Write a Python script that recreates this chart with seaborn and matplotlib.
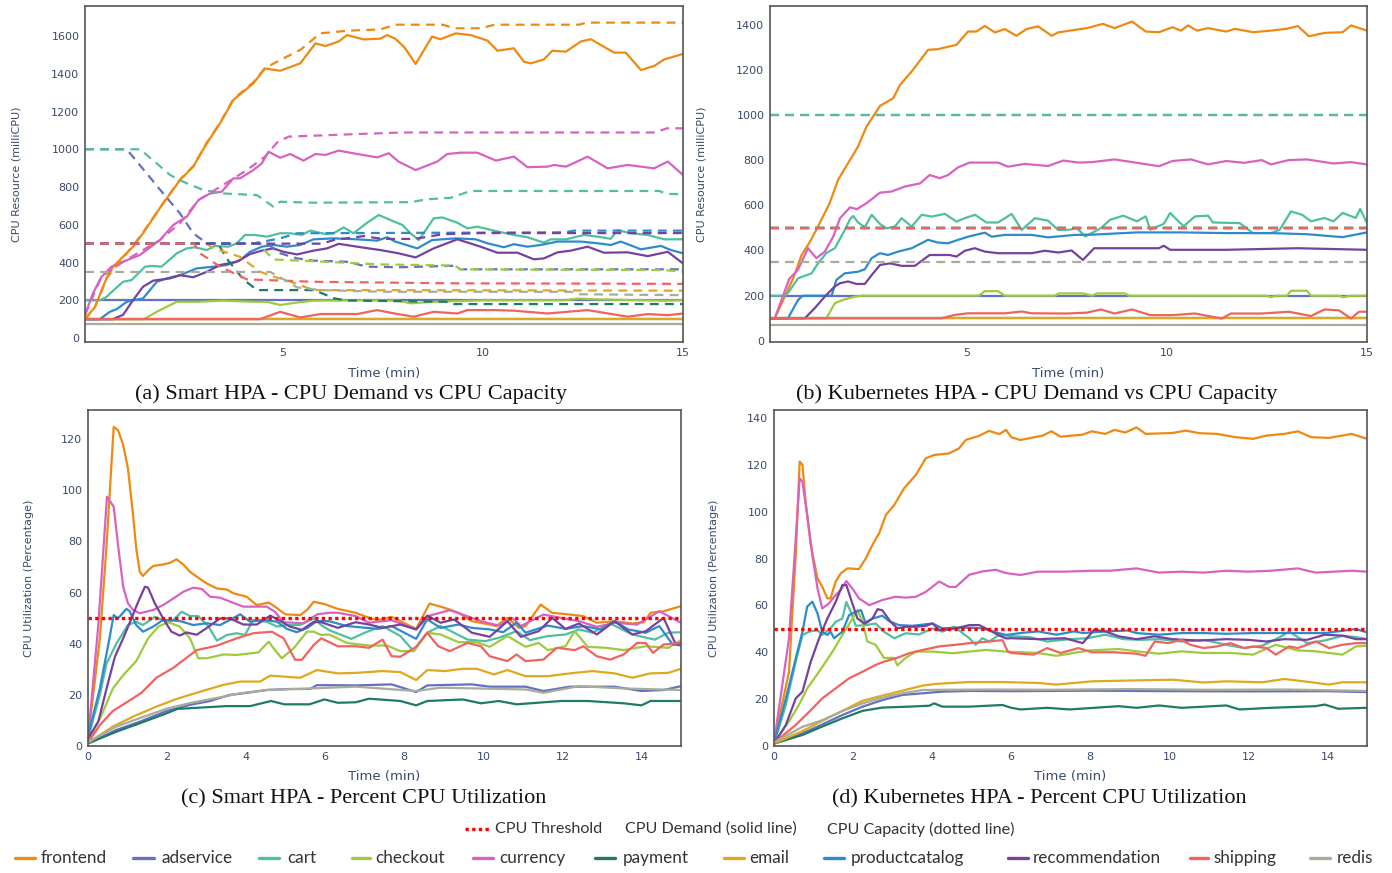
import matplotlib
matplotlib.use("Agg")
import matplotlib.pyplot as plt
import seaborn as sns
from matplotlib.lines import Line2D

# ---------------------------------------------------------------- data
SERVICES = ["frontend", "adservice", "cart", "checkout", "currency", "payment",
            "email", "productcatalog", "recommendation", "shipping", "redis"]
COLORS = ["#EE8A12", "#6470C4", "#4EC0A0", "#9CCB3C", "#D762C0", "#1E7B66",
          "#E0A81E", "#2E8BCB", "#7542A0", "#F2625E", "#A9AC98"]
THRESHOLD = 50

# (a) Smart HPA - CPU demand (milliCPU), points (minute, value)
A_DEMAND = {
    "frontend": [(0.08, 100), (0.33, 165), (0.62, 318), (0.78, 378), (1.28, 484), (1.53, 556), (2.03, 714),
                 (2.45, 837), (2.78, 908), (3.12, 1032), (3.45, 1138), (3.78, 1261), (4.28, 1349), (4.57, 1428),
                 (4.95, 1416), (5.45, 1455), (5.83, 1561), (6.08, 1547), (6.41, 1571), (6.62, 1605), (7.03, 1582),
                 (7.45, 1586), (7.62, 1605), (7.82, 1586), (8.05, 1540), (8.33, 1452), (8.74, 1597), (8.95, 1583),
                 (9.33, 1614), (9.7, 1605), (10.12, 1576), (10.37, 1522), (10.78, 1535), (11.03, 1464), (11.2, 1455),
                 (11.53, 1476), (11.74, 1522), (12.08, 1517), (12.45, 1571), (12.7, 1583), (13.28, 1512),
                 (13.57, 1512), (13.95, 1420), (14.28, 1441), (14.53, 1476), (15.0, 1505)],
    "adservice": [(0.08, 200), (15.0, 200)],
    "cart": [(0.08, 200), (0.45, 200), (0.6, 215), (0.78, 251), (1.03, 298), (1.24, 307), (1.58, 378), (1.74, 382),
             (1.99, 378), (2.37, 449), (2.62, 475), (2.82, 481), (3.12, 466), (3.32, 488), (3.66, 484), (3.87, 502),
             (4.07, 546), (4.32, 546), (4.62, 537), (4.95, 555), (5.2, 555), (5.49, 546), (5.7, 569), (6.08, 551),
             (6.28, 555), (6.53, 586), (6.78, 555), (7.12, 611), (7.41, 652), (7.7, 625), (8.0, 599), (8.2, 555),
             (8.41, 519), (8.78, 634), (8.99, 639), (9.37, 611), (9.62, 581), (9.87, 590), (10.28, 569),
             (10.78, 546), (11.12, 534), (11.53, 505), (11.7, 523), (12.08, 523), (12.53, 546), (12.87, 537),
             (13.2, 526), (13.37, 572), (13.7, 555), (14.12, 546), (14.53, 523), (15.0, 523)],
    "checkout": [(0.08, 100), (1.55, 100), (1.87, 139), (2.37, 192), (2.87, 192), (3.53, 198), (4.3, 192),
                 (4.62, 192), (4.95, 175), (5.37, 188), (5.78, 198), (7.0, 200), (7.9, 198), (8.2, 184), (8.8, 192),
                 (10.0, 200), (12.0, 200), (12.4, 209), (12.8, 205), (14.5, 198), (15.0, 200)],
    "currency": [(0.08, 123), (0.28, 238), (0.49, 324), (0.74, 378), (1.03, 404), (1.45, 440), (1.95, 519),
                 (2.28, 599), (2.62, 643), (2.91, 731), (3.2, 766), (3.49, 775), (3.78, 846), (3.95, 846),
                 (4.28, 890), (4.49, 925), (4.66, 987), (4.95, 955), (5.2, 975), (5.53, 940), (5.83, 975),
                 (6.08, 970), (6.41, 993), (6.87, 975), (7.37, 957), (7.66, 979), (7.9, 935), (8.33, 890),
                 (8.87, 935), (9.12, 975), (9.45, 982), (9.87, 982), (10.33, 940), (10.78, 961), (11.12, 905),
                 (11.62, 908), (11.78, 917), (12.08, 908), (12.62, 961), (13.12, 899), (13.62, 917), (14.28, 899),
                 (14.62, 935), (15.0, 864)],
    "payment": [(0.08, 100), (15.0, 100)],
    "email": [(0.08, 100), (15.0, 100)],
    "productcatalog": [(0.08, 100), (0.45, 100), (0.7, 139), (0.87, 153), (1.12, 192), (1.4, 205), (1.53, 210),
                       (1.87, 298), (2.12, 316), (2.45, 333), (2.87, 369), (3.28, 378), (3.62, 387), (3.95, 413),
                       (4.2, 457), (4.49, 484), (4.78, 493), (5.12, 484), (5.45, 493), (5.78, 523), (6.28, 528),
                       (6.87, 523), (7.37, 516), (7.62, 534), (7.82, 511), (8.37, 475), (8.74, 519), (9.33, 528),
                       (9.83, 523), (10.12, 502), (10.53, 481), (10.78, 497), (11.12, 484), (11.45, 493),
                       (11.87, 511), (12.45, 511), (12.87, 502), (13.2, 493), (13.45, 511), (13.95, 470),
                       (14.45, 488), (14.7, 466), (15.0, 449)],
    "recommendation": [(0.08, 100), (0.78, 100), (1.03, 123), (1.28, 201), (1.53, 272), (1.78, 304), (2.2, 316),
                       (2.45, 333), (2.78, 322), (3.12, 351), (3.45, 387), (3.87, 404), (4.2, 445), (4.49, 463),
                       (4.78, 475), (5.03, 457), (5.37, 443), (5.78, 463), (6.12, 475), (6.41, 499), (6.87, 484),
                       (7.45, 466), (7.9, 449), (8.33, 427), (8.78, 475), (9.37, 523), (9.95, 484), (10.37, 452),
                       (10.87, 452), (11.28, 417), (11.53, 422), (11.87, 454), (12.2, 463), (12.62, 484),
                       (13.03, 452), (13.62, 454), (14.12, 434), (14.62, 457), (15.0, 395)],
    "shipping": [(0.08, 100), (4.45, 100), (4.95, 139), (5.45, 109), (5.95, 127), (6.87, 127), (7.37, 148),
                 (7.8, 130), (8.28, 113), (8.78, 139), (9.37, 130), (9.62, 148), (10.28, 148), (10.78, 145),
                 (11.62, 130), (12.62, 148), (13.62, 113), (14.12, 127), (14.62, 121), (15.0, 130)],
    "redis": [(0.08, 72), (15.0, 72)],
}

# (a) Smart HPA - CPU capacity (milliCPU)
A_CAPACITY = {
    "frontend": [(0.08, 100), (0.33, 165), (0.62, 318), (1.28, 490), (1.53, 560), (2.03, 714), (2.45, 840),
                 (2.78, 910), (3.12, 1035), (3.45, 1140), (3.78, 1265), (4.28, 1355), (4.57, 1430), (4.95, 1473),
                 (5.45, 1526), (5.95, 1614), (6.62, 1628), (7.45, 1635), (7.82, 1660), (9.0, 1660), (9.3, 1641),
                 (9.95, 1641), (10.3, 1660), (12.4, 1660), (12.6, 1671), (15.0, 1671)],
    "adservice": [(0.08, 1000), (1.12, 1000), (1.62, 872), (2.03, 766), (2.45, 660), (2.78, 555), (2.95, 528),
                  (3.12, 502), (4.62, 500), (4.95, 449), (5.37, 422), (5.78, 410), (6.62, 404), (7.12, 378),
                  (7.95, 375), (9.3, 383), (9.45, 364), (15.0, 364)],
    "cart": [(0.08, 1000), (1.45, 1000), (1.87, 925), (2.2, 864), (2.53, 828), (3.03, 784), (3.53, 766),
             (4.37, 757), (4.78, 696), (4.95, 722), (5.78, 717), (8.2, 720), (8.62, 735), (9.2, 743), (9.7, 779),
             (14.4, 779), (14.62, 763), (15.0, 763)],
    "checkout": [(0.08, 500), (4.4, 500), (4.78, 416), (5.78, 407), (7.45, 390), (9.3, 384), (9.45, 364),
                 (14.5, 360), (15.0, 352)],
    "currency": [(0.08, 123), (0.49, 324), (1.03, 404), (1.95, 519), (2.45, 608), (2.91, 731), (3.45, 801),
                 (4.12, 890), (4.57, 961), (4.87, 1035), (5.16, 1067), (6.28, 1076), (7.45, 1085), (8.0, 1089),
                 (14.3, 1089), (14.6, 1111), (15.0, 1111)],
    "payment": [(0.08, 500), (3.4, 500), (3.62, 420), (4.03, 311), (4.37, 254), (5.8, 254), (6.3, 210),
                (6.62, 199), (9.1, 192), (9.28, 180), (15.0, 180)],
    "email": [(0.08, 500), (3.1, 500), (3.3, 475), (3.95, 430), (4.45, 351), (4.78, 325), (5.1, 307),
              (5.78, 254), (15.0, 251)],
    "productcatalog": [(0.08, 500), (4.3, 502), (4.95, 528), (5.37, 555), (12.0, 560), (12.3, 569), (15.0, 569)],
    "recommendation": [(0.08, 500), (6.0, 500), (6.28, 519), (7.03, 540), (7.5, 525), (8.3, 525), (9.0, 550),
                       (10.0, 556), (15.0, 556)],
    "shipping": [(0.08, 500), (2.8, 500), (2.95, 449), (3.45, 378), (4.12, 311), (4.62, 307), (5.78, 298),
                 (7.95, 293), (9.2, 290), (15.0, 287)],
    "redis": [(0.08, 350), (4.7, 350), (5.03, 312), (5.37, 268), (5.95, 254), (7.5, 245), (12.2, 245),
              (12.4, 232), (15.0, 227)],
}

# (b) Kubernetes HPA - CPU demand (milliCPU)
B_DEMAND = {
    "frontend": [(0.08, 100), (0.2, 100), (0.45, 196), (0.66, 277), (0.87, 380), (1.08, 439), (1.28, 506),
                 (1.57, 609), (1.78, 712), (2.08, 801), (2.28, 860), (2.49, 948), (2.83, 1040), (3.16, 1074),
                 (3.33, 1133), (3.62, 1192), (4.03, 1288), (4.28, 1291), (4.49, 1300), (4.74, 1310), (5.03, 1369),
                 (5.24, 1369), (5.45, 1394), (5.7, 1365), (5.95, 1380), (6.24, 1350), (6.49, 1380), (6.78, 1392),
                 (7.12, 1350), (7.28, 1365), (7.57, 1373), (8.0, 1384), (8.4, 1403), (8.69, 1384), (9.13, 1413),
                 (9.47, 1369), (9.8, 1366), (10.14, 1388), (10.35, 1373), (10.53, 1396), (10.75, 1373),
                 (11.03, 1384), (11.48, 1369), (11.7, 1381), (12.15, 1366), (12.6, 1373), (12.99, 1381),
                 (13.27, 1393), (13.55, 1348), (13.94, 1363), (14.39, 1366), (14.6, 1396), (15.0, 1373)],
    "adservice": [(0.08, 200), (15.0, 200)],
    "cart": [(0.08, 200), (0.45, 200), (0.53, 212), (0.78, 277), (1.12, 299), (1.28, 343), (1.49, 389),
             (1.7, 410), (1.95, 491), (2.08, 539), (2.16, 553), (2.28, 524), (2.45, 503), (2.62, 558), (2.83, 517),
             (2.99, 498), (3.2, 506), (3.37, 543), (3.62, 506), (3.87, 558), (4.12, 550), (4.45, 562), (4.74, 528),
             (4.95, 543), (5.2, 558), (5.49, 524), (5.78, 524), (6.12, 562), (6.37, 491), (6.7, 543), (7.03, 532),
             (7.28, 491), (7.57, 492), (7.75, 499), (7.96, 462), (8.35, 499), (8.58, 536), (8.91, 554),
             (9.25, 529), (9.47, 551), (9.58, 492), (9.92, 518), (10.08, 566), (10.25, 536), (10.42, 507),
             (10.7, 551), (11.03, 554), (11.15, 524), (11.82, 521), (12.15, 477), (12.6, 477), (12.82, 492),
             (13.1, 573), (13.38, 558), (13.6, 529), (13.94, 544), (14.16, 529), (14.39, 566), (14.72, 544),
             (14.83, 584), (15.0, 521)],
    "checkout": [(0.08, 100), (1.49, 100), (1.7, 167), (1.95, 184), (2.2, 196), (2.4, 200), (5.3, 200),
                 (5.45, 220), (5.78, 220), (5.95, 200), (7.2, 200), (7.3, 210), (7.9, 210), (8.13, 200),
                 (8.25, 210), (8.95, 210), (9.05, 200), (12.5, 200), (12.6, 193), (12.7, 200), (13.0, 200),
                 (13.1, 222), (13.5, 222), (13.6, 200), (14.3, 200), (14.4, 193), (14.6, 200), (15.0, 200)],
    "currency": [(0.08, 100), (0.2, 100), (0.56, 274), (0.78, 315), (1.03, 410), (1.24, 366), (1.45, 395),
                 (1.66, 461), (1.83, 543), (2.08, 591), (2.25, 583), (2.49, 609), (2.83, 656), (3.12, 661),
                 (3.45, 683), (3.83, 697), (4.07, 734), (4.32, 720), (4.53, 734), (4.78, 768), (5.07, 789),
                 (5.78, 789), (6.03, 771), (6.45, 783), (7.03, 774), (7.41, 798), (7.8, 789), (8.13, 791),
                 (8.69, 803), (9.25, 788), (9.8, 773), (10.14, 796), (10.6, 803), (11.03, 781), (11.48, 796),
                 (11.93, 788), (12.37, 800), (12.6, 781), (13.04, 800), (13.5, 803), (14.16, 785), (14.6, 791),
                 (15.0, 781)],
    "payment": [(0.08, 100), (15.0, 100)],
    "email": [(0.08, 100), (15.0, 100)],
    "productcatalog": [(0.08, 100), (0.53, 100), (0.78, 181), (0.9, 200), (1.62, 200), (1.74, 270), (1.95, 299),
                       (2.28, 306), (2.45, 317), (2.62, 366), (2.83, 388), (3.03, 380), (3.28, 395), (3.62, 410),
                       (4.03, 447), (4.28, 435), (4.53, 432), (4.78, 447), (5.03, 461), (5.45, 479), (5.62, 461),
                       (5.95, 469), (6.62, 469), (7.03, 458), (7.7, 469), (8.13, 470), (9.25, 480), (10.35, 480),
                       (11.48, 477), (12.6, 477), (13.5, 472), (14.39, 459), (15.0, 480)],
    "recommendation": [(0.08, 100), (0.95, 100), (1.2, 145), (1.45, 196), (1.7, 241), (1.83, 255), (2.03, 263),
                       (2.24, 252), (2.45, 252), (2.62, 291), (2.83, 336), (3.08, 343), (3.37, 332), (3.7, 332),
                       (4.07, 380), (4.57, 380), (4.74, 373), (4.95, 399), (5.2, 410), (5.45, 395), (5.78, 388),
                       (6.62, 388), (6.95, 399), (7.28, 391), (7.62, 400), (7.9, 358), (8.18, 410), (9.8, 410),
                       (9.92, 421), (10.08, 403), (11.48, 403), (13.27, 410), (15.0, 403)],
    "shipping": [(0.08, 100), (4.37, 100), (4.7, 115), (5.03, 122), (5.95, 122), (6.37, 130), (6.62, 122),
                 (7.5, 121), (8.0, 125), (8.35, 139), (8.69, 121), (9.13, 139), (9.58, 114), (10.14, 114),
                 (10.7, 121), (11.37, 99), (11.6, 121), (12.37, 121), (13.04, 129), (13.6, 110), (13.94, 139),
                 (14.3, 135), (14.6, 99), (14.8, 129), (15.0, 129)],
    "redis": [(0.08, 70), (15.0, 70)],
}

# (b) Kubernetes HPA - CPU capacity (milliCPU)
B_CAPACITY = {
    "adservice": [(0.08, 1000), (15.0, 1000)],
    "cart": [(0.08, 1000), (15.0, 1000)],
    "checkout": [(0.08, 500), (15.0, 500)],
    "payment": [(0.08, 500), (15.0, 500)],
    "email": [(0.08, 500), (15.0, 500)],
    "productcatalog": [(0.08, 500), (15.0, 500)],
    "recommendation": [(0.08, 500), (15.0, 500)],
    "shipping": [(0.08, 500), (15.0, 500)],
    "redis": [(0.08, 350), (15.0, 350)],
}

# (c) Smart HPA - CPU utilization (%)
C_UTIL = {
    "frontend": [(0, 3), (0.3, 42), (0.47, 78.6), (0.65, 124.8), (0.76, 123.5), (0.89, 117.7), (1.01, 108.6),
                 (1.14, 90.3), (1.22, 77.3), (1.31, 68.1), (1.39, 66.5), (1.52, 68.7), (1.65, 70.4), (1.9, 71),
                 (2.07, 71.6), (2.24, 73), (2.41, 71), (2.58, 68.1), (2.79, 65.8), (3.0, 63.6), (3.26, 61.6),
                 (3.51, 61.2), (3.68, 59.7), (4.01, 58.4), (4.27, 55.1), (4.57, 56.1), (4.73, 54.5), (4.99, 51.5),
                 (5.37, 51.2), (5.54, 53.2), (5.71, 56.4), (5.98, 55.5), (6.32, 53.6), (6.77, 52.1), (7.11, 50.1),
                 (7.34, 49.2), (7.68, 50.5), (8.02, 47.9), (8.3, 45.8), (8.64, 55.7), (9.03, 54), (9.37, 52.1),
                 (9.71, 48.8), (10.16, 47.5), (10.33, 46.9), (10.61, 50.1), (10.9, 46.2), (11.07, 46.9),
                 (11.45, 55.3), (11.74, 52.1), (12.19, 51.4), (12.53, 50.8), (12.87, 48.2), (13.32, 48.8),
                 (13.77, 47.9), (14.06, 48.4), (14.23, 52.1), (14.56, 52.7), (15.0, 54.7)],
    "adservice": [(0, 1), (0.72, 6.3), (1.31, 9.5), (1.99, 13.7), (2.58, 16.1), (3.09, 17.6), (3.59, 20),
                  (3.93, 20.6), (4.52, 21.9), (5.11, 22.3), (5.62, 22.3), (5.79, 23.8), (6.77, 23.7), (7.68, 24.1),
                  (8.3, 21.1), (8.58, 23.7), (9.71, 24.1), (10.16, 23.2), (11.07, 23.2), (11.52, 21.5),
                  (12.19, 23.2), (13.32, 23.2), (14.0, 21.5), (14.56, 21.9), (15.0, 23.4)],
    "cart": [(0, 3), (0.3, 20), (0.47, 32.3), (0.72, 40.1), (1.01, 47.3), (1.22, 48.6), (1.39, 47.3), (1.69, 50.5),
             (1.99, 48.6), (2.16, 49.3), (2.37, 52.5), (2.58, 50.8), (2.79, 50.8), (3.05, 46.7), (3.26, 41.2),
             (3.51, 43.4), (3.76, 44.1), (3.97, 43.4), (4.18, 49.3), (4.52, 48.6), (4.78, 46.7), (5.03, 47.3),
             (5.37, 47.3), (5.71, 49.9), (5.9, 47.3), (6.1, 45.3), (6.66, 41.9), (7.0, 44.3), (7.45, 46.9),
             (7.9, 43), (8.24, 37.1), (8.58, 44.3), (8.92, 46.9), (9.26, 44.3), (9.6, 41.6), (10.05, 41),
             (10.39, 42.3), (10.84, 44.9), (11.18, 41.4), (11.63, 43), (12.08, 43.6), (12.42, 45.6),
             (12.76, 44.3), (13.21, 47.9), (13.77, 43.6), (14.34, 41.6), (14.68, 44.3), (15.0, 44.5)],
    "checkout": [(0, 2), (0.34, 12), (0.63, 22.5), (0.89, 27.7), (1.22, 33.2), (1.52, 42.1), (1.78, 46.7),
                 (2.03, 48.4), (2.32, 46.7), (2.58, 42.1), (2.79, 34.3), (3.0, 34.3), (3.43, 35.8), (3.76, 35.6),
                 (4.31, 36.6), (4.57, 40.8), (4.73, 37.5), (4.9, 34.3), (5.2, 38.2), (5.54, 44.7), (5.71, 44.7),
                 (5.9, 43.4), (6.1, 43.6), (6.55, 40.3), (7.11, 39.3), (7.56, 39.3), (7.9, 37.1), (8.24, 37.1),
                 (8.58, 44.3), (8.92, 43.6), (9.37, 40.6), (9.83, 40.6), (10.16, 38.8), (10.61, 43),
                 (11.07, 38.8), (11.4, 40.3), (11.63, 37.5), (12.08, 39), (12.31, 44.9), (12.64, 38.8),
                 (13.1, 38.4), (13.55, 37.5), (14.11, 39), (14.68, 38.4), (15.0, 41.4)],
    "currency": [(0, 3), (0.26, 47), (0.48, 97.5), (0.65, 93.6), (0.76, 78.6), (0.89, 62.3), (1.01, 55.8),
                 (1.14, 53.2), (1.31, 51.9), (1.65, 53.2), (1.9, 55.1), (2.16, 57.7), (2.41, 60.3), (2.66, 61.9),
                 (2.88, 61.4), (3.09, 58.4), (3.34, 58), (3.64, 56.2), (3.93, 54.5), (4.52, 54.5), (4.73, 52.5),
                 (4.95, 48.4), (5.45, 48), (5.8, 51.5), (6.1, 52.1), (6.32, 52.1), (6.77, 50.8), (7.11, 48.2),
                 (7.68, 49.2), (8.3, 45.6), (8.64, 51), (9.15, 53.1), (9.48, 51.4), (9.94, 48.8), (10.39, 47.1),
                 (10.73, 50.1), (10.95, 46.9), (11.52, 51.4), (11.97, 50.1), (12.42, 48.8), (12.87, 46.6),
                 (13.32, 48.2), (13.89, 47.5), (14.45, 52.7), (15.0, 48.2)],
    "payment": [(0, 1), (0.72, 5.6), (1.31, 8.9), (1.99, 12.8), (2.26, 14.5), (3.5, 15.6), (4.1, 15.6),
                (4.63, 17.6), (4.97, 16.3), (5.6, 16.3), (5.98, 18.2), (6.32, 16.9), (6.77, 17.1), (7.11, 18.5),
                (7.9, 17.6), (8.3, 15.9), (8.58, 17.6), (9.48, 18.2), (9.94, 16.7), (10.39, 17.6), (10.84, 16.3),
                (11.97, 17.6), (12.64, 17.6), (13.55, 16.7), (14.0, 15.9), (14.23, 17.6), (15.0, 17.6)],
    "email": [(0, 1.3), (0.63, 7.6), (1.14, 11.5), (1.73, 15.4), (2.24, 18.4), (2.83, 21.2), (3.42, 23.9),
              (3.85, 25.2), (4.35, 25.2), (4.61, 27.5), (5.37, 26.7), (5.79, 29.7), (6.32, 28.4), (6.77, 28.6),
              (7.45, 29.3), (7.9, 28.9), (8.3, 25.8), (8.58, 29.7), (9.03, 29.3), (9.48, 30.2), (9.83, 30.2),
              (10.27, 28), (10.61, 29.7), (11.07, 27.3), (11.63, 27.3), (12.19, 28.4), (12.76, 29.3),
              (13.32, 28.4), (13.77, 26.7), (14.23, 28.4), (14.68, 28.6), (15.0, 30.2)],
    "productcatalog": [(0, 4), (0.3, 22.5), (0.51, 39.4), (0.65, 51.2), (0.76, 49.9), (0.97, 53.6), (1.05, 52.8),
                       (1.22, 47.3), (1.39, 44.7), (1.65, 46.7), (1.9, 49.3), (2.32, 48.9), (2.66, 47.3),
                       (3.0, 48), (3.34, 47.3), (3.59, 49.3), (3.85, 51.5), (4.1, 48.6), (4.44, 49.3),
                       (4.78, 48.6), (5.03, 45.8), (5.28, 44.5), (5.54, 46.1), (5.8, 48.9), (6.1, 48.8),
                       (6.55, 46.9), (7.34, 45.8), (7.68, 46.9), (8.3, 41.9), (8.58, 49.5), (8.92, 46.2),
                       (9.37, 47.5), (9.71, 46.2), (10.16, 45.6), (10.5, 44.5), (10.84, 48.2), (11.07, 44.3),
                       (11.63, 47.1), (12.08, 45.8), (12.53, 46.9), (12.98, 45.6), (13.32, 48.8), (13.66, 45.6),
                       (14.11, 44.3), (14.45, 46.9), (14.79, 39.7), (15.0, 39.3)],
    "recommendation": [(0, 3), (0.26, 9.5), (0.47, 22.5), (0.68, 34.9), (0.89, 42.1), (1.1, 49.9), (1.27, 56.4),
                       (1.44, 62.3), (1.52, 61.9), (1.69, 55.8), (1.9, 49.9), (2.11, 44.7), (2.32, 43.2),
                       (2.49, 44.4), (2.75, 43.5), (3.0, 46.1), (3.34, 49.9), (3.59, 49.9), (3.93, 47.5),
                       (4.27, 47.5), (4.61, 51), (4.86, 48.9), (5.11, 46.7), (5.41, 45.4), (5.71, 48.6),
                       (5.9, 48.4), (6.32, 46.2), (6.77, 48.4), (7.11, 47.5), (7.45, 46.2), (7.9, 47.5),
                       (8.3, 45.6), (8.58, 51), (8.92, 48.2), (9.26, 49.5), (9.71, 44.3), (10.16, 42.7),
                       (10.61, 48.8), (10.95, 42.7), (11.4, 44.9), (11.74, 50.1), (12.08, 45.8), (12.42, 47.9),
                       (12.87, 43.6), (13.32, 48.8), (13.77, 43.6), (14.11, 44.9), (14.56, 50.1), (14.85, 40.3),
                       (15.0, 39.7)],
    "shipping": [(0, 1.3), (0.3, 8.2), (0.63, 13.7), (0.97, 17), (1.35, 20.8), (1.73, 26.7), (2.16, 30.6),
                 (2.75, 37.5), (3.25, 39.2), (3.76, 42.1), (4.18, 44.1), (4.65, 44.7), (4.95, 42.1), (5.24, 33.7),
                 (5.41, 33.7), (5.71, 39.5), (5.9, 42.1), (6.32, 39), (6.77, 39), (7.11, 38.4), (7.45, 41.6),
                 (7.68, 35.1), (7.9, 34.9), (8.3, 38.8), (8.58, 44.3), (8.86, 39), (9.15, 37.1), (9.6, 40.3),
                 (9.94, 39), (10.16, 35.1), (10.61, 33.2), (10.84, 35.8), (11.07, 33.2), (11.52, 33.8),
                 (11.86, 38.4), (12.31, 37.5), (12.53, 39), (12.87, 35.1), (13.21, 33.8), (13.55, 35.8),
                 (13.89, 40.3), (14.11, 40.3), (14.29, 36.4), (14.56, 39.7), (15.0, 40.3)],
    "redis": [(0, 1.5), (0.72, 7.6), (1.31, 10.9), (1.99, 14.6), (2.58, 16.8), (3.26, 18.8), (3.85, 20.6),
              (4.52, 21.9), (5.62, 22.5), (6.77, 23.2), (8.3, 21.5), (8.92, 22.8), (11.07, 22.1), (11.52, 20.8),
              (12.42, 23.4), (13.55, 22.5), (15.0, 21.9)],
}

# (d) Kubernetes HPA - CPU utilization (%)
D_UTIL = {
    "frontend": [(0, 1.4), (0.38, 31.7), (0.55, 81.5), (0.65, 121.4), (0.72, 120), (0.8, 104), (0.93, 85.8),
                 (1.1, 71.5), (1.22, 68), (1.35, 63), (1.43, 63), (1.56, 70.2), (1.69, 73.7), (1.86, 75.8),
                 (2.15, 75.5), (2.32, 80), (2.49, 85.8), (2.66, 90.8), (2.83, 98.6), (3.04, 102.8), (3.29, 110),
                 (3.59, 115.7), (3.84, 122.8), (4.05, 124.2), (4.43, 124.9), (4.68, 127), (4.85, 130.6),
                 (5.19, 132.4), (5.44, 134.5), (5.7, 133.1), (5.87, 134.9), (6.0, 131.8), (6.23, 130.6),
                 (6.8, 132.5), (7.02, 134.3), (7.25, 132), (7.81, 132.9), (8.04, 134.3), (8.38, 133.2),
                 (8.61, 134.9), (8.89, 133.8), (9.17, 136), (9.4, 133.2), (10.08, 133.6), (10.42, 134.6),
                 (10.76, 133.5), (11.21, 133.2), (11.67, 131.8), (12.12, 131.1), (12.46, 132.5), (12.91, 133.2),
                 (13.25, 134.3), (13.59, 131.8), (14.04, 131.5), (14.61, 133.2), (15.0, 131.1)],
    "adservice": [(0, 1), (0.72, 5.4), (1.22, 9.2), (1.73, 13.2), (2.24, 16.8), (2.74, 19.6), (3.25, 21.8),
                  (3.76, 22.5), (4.26, 23.2), (4.94, 23.5), (6.0, 23.4), (8.0, 23.6), (10.0, 23.4), (12.0, 23.3),
                  (14.0, 23.4), (15.0, 23)],
    "cart": [(0, 1), (0.3, 17.5), (0.55, 36), (0.72, 47.4), (0.89, 48.8), (1.1, 49.5), (1.22, 47.4), (1.43, 50.2),
             (1.56, 53), (1.73, 54.4), (1.83, 61.5), (1.94, 57.3), (2.07, 51.3), (2.32, 51.6), (2.57, 52.3),
             (2.78, 48.8), (3.04, 46), (3.33, 48.1), (3.67, 47.6), (4.01, 50.2), (4.26, 48.8), (4.56, 50.9),
             (4.94, 46), (5.1, 43.2), (5.27, 46), (5.44, 44.6), (5.7, 47.4), (6.0, 46.9), (6.46, 46.5),
             (6.91, 44.6), (7.48, 45.6), (7.93, 46), (8.38, 47.5), (8.84, 45.6), (9.29, 45.3), (9.74, 45.6),
             (10.31, 44.6), (10.87, 45.3), (11.44, 43.2), (11.89, 41.8), (12.35, 42.8), (12.8, 46.5),
             (13.03, 48.9), (13.48, 43.9), (13.93, 45), (14.38, 47), (14.72, 46.5), (15.0, 45.6)],
    "checkout": [(0, 1.4), (0.38, 10.5), (0.63, 17.5), (0.84, 24.6), (1.14, 31.7), (1.48, 40.3), (1.73, 47.4),
                 (1.94, 53), (2.11, 58), (2.24, 53), (2.36, 44.6), (2.57, 43.2), (2.78, 37.6), (3.04, 37.6),
                 (3.12, 34.4), (3.33, 37.6), (3.59, 40.3), (4.01, 40.3), (4.51, 39.6), (4.94, 40.3), (5.36, 41),
                 (5.87, 40.3), (6.68, 39.7), (7.14, 38.5), (7.99, 40.8), (8.72, 41.4), (9.17, 40.4),
                 (9.74, 39.4), (10.31, 40.4), (10.87, 39.7), (11.55, 39.7), (12.12, 39), (12.69, 43.2),
                 (13.25, 40.8), (13.71, 40.4), (14.38, 39), (14.72, 42.5), (15.0, 42.8)],
    "currency": [(0, 1.4), (0.38, 46), (0.55, 88.6), (0.65, 114.2), (0.72, 112.8), (0.84, 98.6), (0.97, 81.5),
                 (1.1, 67.3), (1.22, 58.7), (1.39, 60.9), (1.56, 64.4), (1.69, 66.6), (1.83, 70.4), (1.98, 67.3),
                 (2.15, 63), (2.41, 60.1), (2.74, 62.3), (3.08, 63.7), (3.33, 63.3), (3.59, 63.7), (3.84, 65.8),
                 (4.18, 70.2), (4.43, 67.9), (4.6, 67.9), (4.94, 73.1), (5.27, 74.5), (5.61, 75.2), (5.87, 73.8),
                 (6.23, 73), (6.68, 74.4), (7.36, 74.4), (8.04, 74.8), (8.5, 74.8), (9.17, 75.8), (9.74, 74),
                 (10.31, 74.4), (10.87, 74), (11.44, 74.8), (12.0, 74.4), (12.57, 74.8), (13.25, 75.8),
                 (13.7, 74), (14.15, 74.4), (14.61, 74.8), (15.0, 74.4)],
    "payment": [(0, 1), (0.72, 4.7), (1.22, 8.3), (1.73, 11.8), (2.24, 15), (2.74, 16.4), (3.42, 16.8),
                (3.93, 17.2), (4.05, 18.2), (4.26, 16.8), (4.94, 16.8), (5.78, 17.5), (6.0, 16.3), (6.23, 15.6),
                (6.91, 16.3), (7.48, 15.6), (8.72, 17), (9.17, 16.3), (9.74, 17.3), (10.31, 16.3), (11.44, 17.3),
                (11.78, 15.6), (12.57, 16.3), (13.7, 17), (13.93, 17.7), (14.27, 15.9), (15.0, 16.3)],
    "email": [(0, 1), (0.72, 6.4), (1.22, 10.7), (1.73, 15), (2.24, 19.3), (2.74, 21.5), (3.25, 23.6),
              (3.76, 25.8), (4.09, 26.5), (4.6, 27), (4.94, 27.3), (5.78, 27.3), (6.68, 26.9), (7.14, 26.2),
              (8.04, 27.6), (9.17, 28), (10.08, 28.3), (10.87, 27.1), (11.44, 27.6), (12.35, 27.2),
              (12.91, 28.6), (13.59, 27.2), (14.04, 26.2), (14.38, 27.2), (15.0, 27.2)],
    "productcatalog": [(0, 1), (0.3, 20.3), (0.55, 37.4), (0.72, 48.8), (0.84, 59.5), (0.97, 61.6), (1.1, 56.6),
                       (1.22, 48.8), (1.35, 47.4), (1.43, 48.8), (1.52, 46), (1.73, 48.8), (1.9, 55.9),
                       (2.07, 57.3), (2.2, 58), (2.32, 52.3), (2.49, 54.4), (2.74, 55.6), (2.91, 53.3),
                       (3.16, 51.6), (3.5, 51.3), (4.01, 52.3), (4.26, 50.2), (4.6, 50.5), (4.94, 50.5),
                       (5.27, 50.2), (5.61, 48.5), (5.87, 47.4), (6.23, 48.2), (6.68, 48.9), (7.14, 47.5),
                       (7.59, 48.9), (7.81, 48.2), (8.38, 48.9), (8.95, 49.3), (9.17, 48.2), (9.74, 47.5),
                       (10.31, 48.2), (10.87, 48.2), (11.44, 47.9), (12.12, 48.2), (12.8, 48.2), (13.48, 48.2),
                       (13.93, 48.2), (14.72, 49.9), (15.0, 48.5)],
    "recommendation": [(0, 1), (0.3, 9), (0.55, 20.3), (0.72, 23.2), (0.93, 36), (1.14, 45.9), (1.35, 54.4),
                       (1.56, 61.5), (1.73, 68.7), (1.83, 68.7), (1.94, 63), (2.11, 54.4), (2.28, 52.3),
                       (2.49, 54.4), (2.62, 58.4), (2.74, 57.9), (2.95, 53), (3.12, 50.2), (3.33, 50.9),
                       (3.59, 50.9), (3.84, 51.3), (4.01, 52.3), (4.18, 49.5), (4.6, 50.2), (4.94, 51.6),
                       (5.19, 51.6), (5.44, 49.5), (5.7, 47.1), (5.87, 45.9), (6.0, 46), (6.68, 45.6), (7.36, 46),
                       (7.81, 43.9), (8.1, 49.6), (8.38, 48.9), (8.72, 46.8), (9.17, 45.6), (9.63, 46.8),
                       (10.08, 45.6), (10.76, 45), (11.44, 45.6), (12.0, 45.3), (12.46, 44.6), (12.91, 45.6),
                       (13.48, 45.3), (13.93, 47.5), (14.38, 47.1), (14.72, 45.6), (15.0, 45.6)],
    "shipping": [(0, 1.3), (0.55, 9), (0.89, 14.6), (1.22, 20.3), (1.56, 24.6), (1.9, 28.9), (2.24, 31.7),
                 (2.57, 34.6), (2.78, 36), (3.08, 37.4), (3.42, 39.6), (3.76, 41), (4.18, 42.5), (4.6, 43.2),
                 (4.94, 43.9), (5.27, 44.3), (5.61, 44.9), (5.78, 45.2), (5.91, 40.4), (6.0, 39.7), (6.57, 39),
                 (6.91, 41.8), (7.25, 39.7), (7.7, 41.8), (8.04, 40), (8.61, 40), (9.17, 39.4), (9.4, 38.5),
                 (9.63, 44.6), (9.97, 43.9), (10.31, 45.3), (10.53, 43.2), (10.87, 41.8), (11.21, 42.5),
                 (11.55, 43.9), (11.89, 41.8), (12.12, 42.5), (12.46, 41.8), (12.69, 39), (13.03, 42.5),
                 (13.25, 41.8), (13.71, 44.6), (14.04, 41.8), (14.38, 43.2), (14.72, 43.9), (15.0, 43.9)],
    "redis": [(0, 1.5), (0.72, 8.2), (1.22, 11), (1.73, 14.9), (2.24, 18.2), (2.74, 20.6), (3.25, 22.5),
              (3.76, 23.9), (4.26, 24), (5.5, 24.1), (7.0, 24), (9.0, 24.3), (11.0, 24), (13.0, 24.1),
              (15.0, 23.5)],
}

CAPTIONS = ["(a) Smart HPA - CPU Demand vs CPU Capacity",
            "(b) Kubernetes HPA - CPU Demand vs CPU Capacity",
            "(c) Smart HPA - Percent CPU Utilization",
            "(d) Kubernetes HPA - Percent CPU Utilization"]
YLABEL_RES = "CPU Resource (milliCPU)"
YLABEL_UTIL = "CPU Utilization (Percentage)"
XLABEL = "Time (min)"
LEGEND_TOP = ["CPU Threshold", "CPU Demand (solid line)", "CPU Capacity (dotted line)"]

# ---------------------------------------------------------------- style
sns.set_theme(style="white")
plt.rcParams['font.family'] = ['DejaVu Sans']
TXT = "#3a4a6a"
W, H = 1392, 873
fig = plt.figure(figsize=(W / 100, H / 100), dpi=100)


def rect(l, t, r, b):
    return [l / W, 1 - b / H, (r - l) / W, (b - t) / H]


def draw(ax, series, dashed=False, lw=1.6):
    for name, color in zip(SERVICES, COLORS):
        if name not in series:
            continue
        pts = series[name]
        xs = [p[0] for p in pts]
        ys = [p[1] for p in pts]
        kw = dict(linestyle=(0, (4.0, 2.8))) if dashed else {}
        sns.lineplot(x=xs, y=ys, ax=ax, color=color, linewidth=lw, estimator=None,
                     sort=False, legend=False, **kw)


def style(ax, xlim, ylim, xticks, yticks, ylabel, ylab_x, xlab_y):
    ax.set_xlim(*xlim)
    ax.set_ylim(*ylim)
    ax.set_xticks(xticks)
    ax.set_yticks(yticks)
    ax.tick_params(length=0, labelsize=8, labelcolor=TXT, pad=4)
    for s in ax.spines.values():
        s.set_color("#555555")
        s.set_linewidth(1.2)
    ax.set_ylabel(ylabel, fontsize=8, color=TXT)
    ax.yaxis.set_label_coords(ylab_x, 0.5)
    ax.set_xlabel(XLABEL, fontsize=9.5, color=TXT)
    ax.xaxis.set_label_coords(0.5, xlab_y)
    ax.grid(False)


ax_a = fig.add_axes(rect(85, 6, 683, 342))
ax_b = fig.add_axes(rect(770, 6, 1367, 342))
ax_c = fig.add_axes(rect(88, 410, 681, 746))
ax_d = fig.add_axes(rect(774, 410, 1367, 746))

# (a)
draw(ax_a, A_DEMAND)
draw(ax_a, A_CAPACITY, dashed=True)
style(ax_a, (0.08, 15), (-21, 1759), [5, 10, 15], list(range(0, 1601, 200)), YLABEL_RES, -0.107, -0.074)
# (b)
draw(ax_b, B_DEMAND)
draw(ax_b, B_CAPACITY, dashed=True)
style(ax_b, (0.08, 15), (-5, 1482), [5, 10, 15], list(range(0, 1401, 200)), YLABEL_RES, -0.107, -0.074)
# (c)
draw(ax_c, C_UTIL)
ax_c.axhline(THRESHOLD, color="#FF0000", linewidth=2.4, linestyle=(0, (1, 1)))
style(ax_c, (0, 15), (0, 131.4), list(range(0, 15, 2)), list(range(0, 121, 20)), YLABEL_UTIL, -0.091, -0.071)
# (d)
draw(ax_d, D_UTIL)
ax_d.axhline(THRESHOLD, color="#FF0000", linewidth=2.4, linestyle=(0, (1, 1)))
style(ax_d, (0, 15), (0, 143.4), list(range(0, 15, 2)), list(range(0, 141, 20)), YLABEL_UTIL, -0.093, -0.071)

# captions
for text, (cx, cy) in zip(CAPTIONS, [(351, 394), (1037, 394), (364, 799), (1039, 799)]):
    fig.text(cx / W, 1 - cy / H, text, ha="center", va="center", fontsize=16,
             family=["Liberation Serif", "DejaVu Serif"], color="#111111")

# legend (figure level)
LFONT = ["Lato", "DejaVu Sans"]
LCOL = "#333333"
fig.add_artist(Line2D([465 / W, 490 / W], [1 - 829 / H] * 2, color="#FF0000", linewidth=2.4,
                      linestyle=(0, (1, 1))))
for text, x0 in zip(LEGEND_TOP, [495, 625, 827]):
    fig.text(x0 / W, 1 - 829 / H, text, ha="left", va="center", fontsize=11.6, family=LFONT, color=LCOL)

LEG_POS = [(15, 35, 41), (133, 154, 162), (259, 279, 287), (352, 370, 375), (473, 493, 499),
           (595, 615, 623), (724, 744, 749), (824, 844, 851), (1008, 1028, 1033), (1190, 1208, 1213),
           (1310, 1330, 1337)]
for name, color, (l0, l1, tx) in zip(SERVICES, COLORS, LEG_POS):
    fig.add_artist(Line2D([l0 / W, l1 / W], [1 - 858 / H] * 2, color=color, linewidth=2.4))
    fig.text(tx / W, 1 - 858 / H, name, ha="left", va="center", fontsize=12.3, family=LFONT, color=LCOL)

fig.savefig("out.png", dpi=100)
